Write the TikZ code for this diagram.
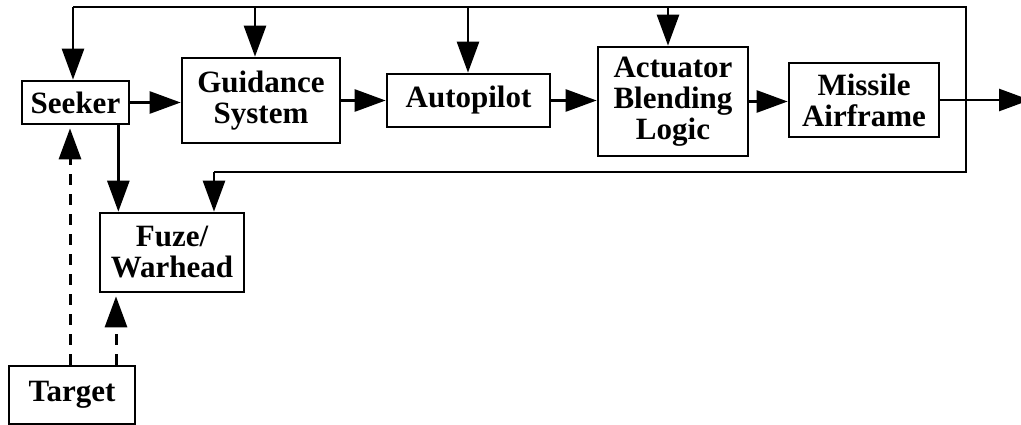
\documentclass[tikz,border=0pt]{standalone}
\usepackage{fontspec}
\setmainfont{Liberation Serif}
\usetikzlibrary{arrows.meta}
\begin{document}
\begin{tikzpicture}[x=1pt,y=-1pt,
    box/.style={draw,line width=2.7pt,inner sep=0pt,align=center,
      font=\fontsize{31}{31}\selectfont\bfseries},
    wire/.style={line width=2.7pt},
    flow/.style={wire,-{Triangle[length=31pt,width=22pt]}},
    sensed/.style={flow,line width=3pt,dash pattern=on 11pt off 9pt,shorten >=3pt}]
  \useasboundingbox (0,0) rectangle (1021,425);
  % blocks
  \node[box,minimum width=107pt,minimum height=43pt] (seeker) at (75.5,102.5) {Seeker};
  \node[box,minimum width=158pt,minimum height=85pt] (guid) at (261,100.5) {Guidance\\System};
  \node[box,minimum width=163pt,minimum height=53pt] (auto) at (468.5,100.5) {Autopilot};
  \node[box,minimum width=150pt,minimum height=109pt] (act) at (673,101.5) {Actuator\\Blending\\Logic};
  \node[box,minimum width=150pt,minimum height=74pt] (miss) at (864,100) {Missile\\Airframe};
  \node[box,minimum width=144pt,minimum height=79pt] (fuze) at (172,252.5) {Fuze/\\Warhead};
  \node[box,minimum width=126pt,minimum height=58pt] (tgt) at (72,395) {Target};
  % forward path
  \draw[flow] (seeker.east) -- (seeker.east -| guid.west);
  \draw[flow] (guid.east) -- (guid.east -| auto.west);
  \draw[flow] (auto.east) -- (auto.east -| act.west);
  \draw[flow] (act.east) -- (act.east -| miss.west);
  \coordinate (out) at (1030,100);
  \draw[flow] (miss.east) -- (out);
  \draw[flow] ([xshift=-12pt]seeker.south east) coordinate (s) -- (s |- fuze.north);
  % feedback loop
  \coordinate (fb1) at (73,7);
  \coordinate (fb2) at (966,7);
  \coordinate (fb3) at (966,172);
  \coordinate (fb4) at (214,172);
  \draw[wire] (fb1) -- (fb2) -- (fb3) -- (fb4);
  \draw[flow] (fb1) -- (fb1 |- seeker.north);
  \foreach \x/\n in {255/guid,468/auto,668/act}
    \draw[flow] (\x,7) coordinate (d) -- (d |- \n.north);
  \draw[flow] (fb4) -- (fb4 |- fuze.north);
  % target returns
  \draw[sensed] ([xshift=-2pt]tgt.north) coordinate (t1) -- (t1 |- seeker.south);
  \draw[sensed] ([xshift=44pt]tgt.north) coordinate (t2) -- (t2 |- fuze.south);
\end{tikzpicture}
\end{document}
